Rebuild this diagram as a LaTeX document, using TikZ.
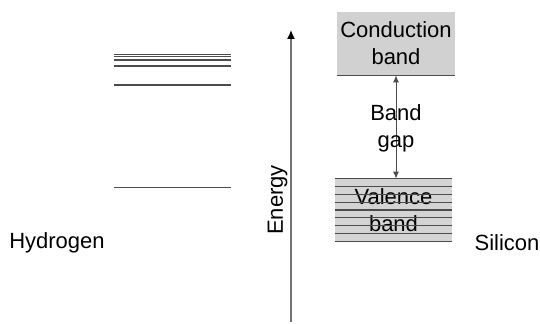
\documentclass[tikz,border=0pt]{standalone}
\usepackage{fontspec}
\setmainfont{Liberation Sans}
\usetikzlibrary{arrows.meta,positioning,calc}
\tikzset{lvl/.style={draw=black!70,line width=.55pt},
 cband/.style={fill=black!18,minimum width=59pt,minimum height=31.5pt,inner sep=0pt,align=center},
 vband/.style={fill=black!17,minimum width=58.5pt,minimum height=31pt,inner sep=0pt,align=center},
 stripe/.style={draw=black!70,line width=.55pt},
 gap/.style={{Latex[length=3.5pt,width=3pt]}-{Latex[length=3.5pt,width=3pt]},draw=black!70,line width=.5pt},
 axis/.style={-{Latex[length=4.5pt,width=4pt,color=black]},draw=black!55,line width=.7pt},
 txt/.style={align=center,inner sep=0pt}}

\begin{document}
\begin{tikzpicture}[x=.5pt,y=-.5pt,font=\fontsize{11}{13.5}\selectfont]
\useasboundingbox (0,0) rectangle (540,324);
% hydrogen levels
\foreach \ly in {54.3,56.2,60,66,85,187.3}{\draw[lvl](114,\ly)--(231,\ly);}
\node[txt](h) at (57,243){Hydrogen};
% energy axis
\coordinate(a0) at (291,322);\coordinate(a1) at (291,30);
\draw[axis](a0)--(a1);
\node[txt,rotate=90](en) at (277.5,200){Energy};
% silicon bands
\node[cband](cb) at (396,43.5){Conduction\\band};
\draw[stripe](cb.south west)--(cb.south east);
\node[vband](vb) at (393.5,210){Valence\\band};
\foreach \i in {0,...,8}{\draw[stripe]($(vb.north west)!\i/8!(vb.south west)$)--($(vb.north east)!\i/8!(vb.south east)$);}
\draw[gap](cb.south -| 396,0)--(vb.north -| 396,0);
\node[txt](bg) at (396,128.5){Band\\gap};
\node[txt](si) at (507,243){Silicon};
\end{tikzpicture}
\end{document}
